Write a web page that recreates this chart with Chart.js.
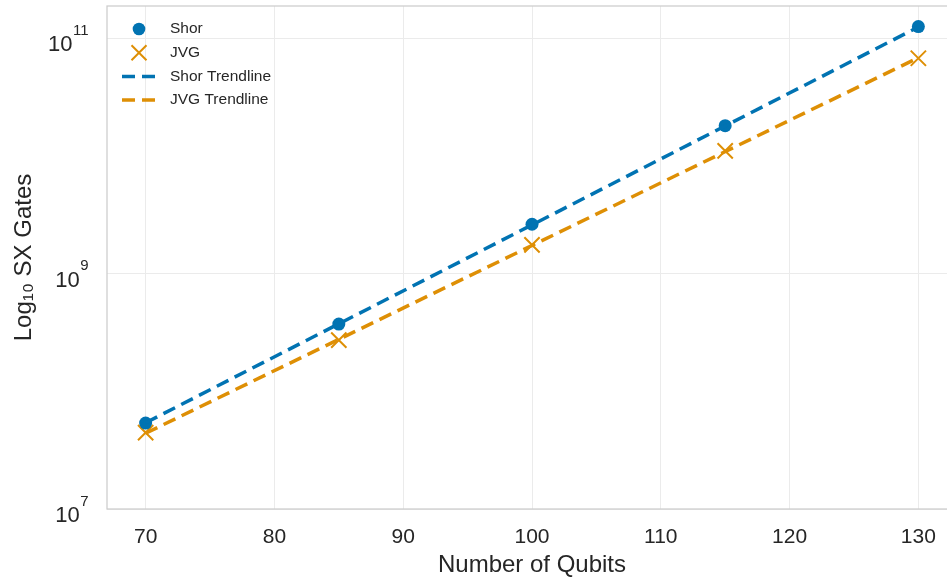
<!DOCTYPE html>
<html lang="en">
<head>
    <meta charset="UTF-8">
    <title>SX Gates vs Qubits</title>
    <script src="https://cdn.jsdelivr.net/npm/chart.js"></script>
    <style>
        html, body { margin: 0; padding: 0; background: #ffffff; overflow: hidden; }
        /* the original figure is cropped on the right, so the canvas runs past the window */
        #wrap { width: 947px; height: 586px; overflow: hidden; }
    </style>
</head>
<body>
    <div id="wrap"><canvas id="gatesChart" width="957" height="586"></canvas></div>
    <script>
        // Data
        const qubits = [70, 85, 100, 115, 130];
        const shorGates = [5.37e7, 3.72e8, 2.62e9, 1.80e10, 1.25e11];
        const jvgGates = [4.45e7, 2.72e8, 1.75e9, 1.10e10, 6.73e10];
        const trendQubits = [70, 130];
        const shorTrend = [5.4e7, 1.24e11];
        const jvgTrend = [4.4e7, 6.8e10];
        const xTicks = [70, 80, 90, 100, 110, 120, 130];
        const yTicks = [1e7, 1e9, 1e11];
        const yTickExponents = ['7', '9', '11'];

        const BLUE = '#0173b2';
        const ORANGE = '#de8f05';
        const TEXT = '#262626';
        const FONT = '"Liberation Sans", Arial, sans-serif';

        const pts = (xs, ys) => xs.map((x, i) => ({ x: x, y: ys[i] }));

        // frame around the plot area
        const framePlugin = {
            id: 'frame',
            afterDraw(chart) {
                const { ctx, chartArea: a } = chart;
                ctx.save();
                ctx.strokeStyle = '#cccccc';
                ctx.lineWidth = 1.25;
                ctx.strokeRect(a.left, a.top, a.right - a.left, a.bottom - a.top);
                ctx.restore();
            }
        };

        // y tick labels as 10 with a raised exponent
        const powerLabels = {
            id: 'powerLabels',
            afterDraw(chart) {
                const { ctx } = chart;
                const y = chart.scales.y;
                ctx.save();
                ctx.fillStyle = TEXT;
                ctx.textBaseline = 'alphabetic';
                ctx.textAlign = 'left';
                yTicks.forEach((v, i) => {
                    const py = y.getPixelForValue(v);
                    const exp = yTickExponents[i];
                    ctx.font = '15px ' + FONT;
                    const we = ctx.measureText(exp).width;
                    ctx.font = '22px ' + FONT;
                    const wb = ctx.measureText('10').width;
                    const right = 88.5;
                    ctx.fillText('10', right - we - wb - 0.5, py + 13);
                    ctx.font = '15px ' + FONT;
                    ctx.fillText(exp, right - we, py - 3.5);
                });
                ctx.restore();
            }
        };

        // legend inside the plot, top left
        const legendPlugin = {
            id: 'innerLegend',
            afterDraw(chart) {
                const { ctx, chartArea: a } = chart;
                const rows = [
                    { label: 'Shor', kind: 'dot', color: BLUE },
                    { label: 'JVG', kind: 'x', color: ORANGE },
                    { label: 'Shor Trendline', kind: 'line', color: BLUE },
                    { label: 'JVG Trendline', kind: 'line', color: ORANGE }
                ];
                ctx.save();
                ctx.font = '15.5px ' + FONT;
                ctx.textBaseline = 'middle';
                rows.forEach((r, i) => {
                    const y = a.top + 23 + i * 23.7;
                    const mx = a.left + 32;
                    ctx.strokeStyle = r.color;
                    ctx.fillStyle = r.color;
                    if (r.kind === 'dot') {
                        ctx.beginPath();
                        ctx.arc(mx, y, 6.3, 0, Math.PI * 2);
                        ctx.fill();
                    } else if (r.kind === 'x') {
                        ctx.lineWidth = 2;
                        ctx.beginPath();
                        ctx.moveTo(mx - 7.5, y - 7.5); ctx.lineTo(mx + 7.5, y + 7.5);
                        ctx.moveTo(mx - 7.5, y + 7.5); ctx.lineTo(mx + 7.5, y - 7.5);
                        ctx.stroke();
                    } else {
                        ctx.lineWidth = 3.5;
                        ctx.setLineDash([13, 7]);
                        ctx.beginPath();
                        ctx.moveTo(mx - 17, y); ctx.lineTo(mx + 17, y);
                        ctx.stroke();
                        ctx.setLineDash([]);
                    }
                    ctx.fillStyle = TEXT;
                    ctx.fillText(r.label, a.left + 63, y);
                });
                ctx.restore();
            }
        };

        const noPad = s => { s.paddingTop = 0; s.paddingBottom = 0; s.paddingLeft = 0; s.paddingRight = 0; };

        const chart = new Chart(document.getElementById('gatesChart').getContext('2d'), {
            type: 'scatter',
            data: {
                datasets: [
                    {
                        label: 'Shor Trendline',
                        type: 'line',
                        data: pts(trendQubits, shorTrend),
                        borderColor: BLUE,
                        borderWidth: 3.5,
                        borderDash: [13, 7],
                        pointRadius: 0,
                        fill: false,
                        order: 0
                    },
                    {
                        label: 'JVG Trendline',
                        type: 'line',
                        data: pts(trendQubits, jvgTrend),
                        borderColor: ORANGE,
                        borderWidth: 3.5,
                        borderDash: [13, 7],
                        pointRadius: 0,
                        fill: false,
                        order: 1
                    },
                    {
                        label: 'Shor',
                        data: pts(qubits, shorGates),
                        backgroundColor: BLUE,
                        borderColor: BLUE,
                        pointStyle: 'circle',
                        pointRadius: 6.5,
                        borderWidth: 0,
                        order: 2
                    },
                    {
                        label: 'JVG',
                        data: pts(qubits, jvgGates),
                        backgroundColor: ORANGE,
                        borderColor: ORANGE,
                        pointStyle: 'crossRot',
                        pointRadius: 10.8,
                        borderWidth: 2,
                        order: 3
                    }
                ]
            },
            options: {
                responsive: false,
                animation: false,
                layout: { autoPadding: false, padding: { top: 6, right: 0, left: 0, bottom: 0 } },
                plugins: {
                    legend: { display: false },
                    tooltip: { enabled: false }
                },
                scales: {
                    x: {
                        type: 'linear',
                        min: 67,
                        max: 133,
                        afterBuildTicks: s => { s.ticks = xTicks.map(v => ({ value: v })); },
                        afterFit: s => { s.height = 77; noPad(s); },
                        grid: { color: '#ebebeb', lineWidth: 1, drawTicks: false },
                        border: { display: false },
                        ticks: { color: TEXT, font: { size: 21, family: FONT }, padding: 16 },
                        title: {
                            display: true,
                            text: 'Number of Qubits',
                            color: TEXT,
                            font: { size: 24, family: FONT },
                            padding: { top: 0, bottom: 6 }
                        }
                    },
                    y: {
                        type: 'logarithmic',
                        min: 1e7,
                        max: 1.87e11,
                        afterBuildTicks: s => { s.ticks = yTicks.map(v => ({ value: v })); },
                        afterFit: s => { s.width = 107; noPad(s); },
                        grid: { color: '#ebebeb', lineWidth: 1, drawTicks: false },
                        border: { display: false },
                        ticks: { display: false },
                        title: {
                            display: true,
                            text: 'Log\u2081\u2080 SX Gates',
                            color: TEXT,
                            font: { size: 24, family: FONT },
                            padding: { top: 10, bottom: 0 }
                        }
                    }
                }
            },
            plugins: [framePlugin, powerLabels, legendPlugin]
        });
    </script>
</body>
</html>
